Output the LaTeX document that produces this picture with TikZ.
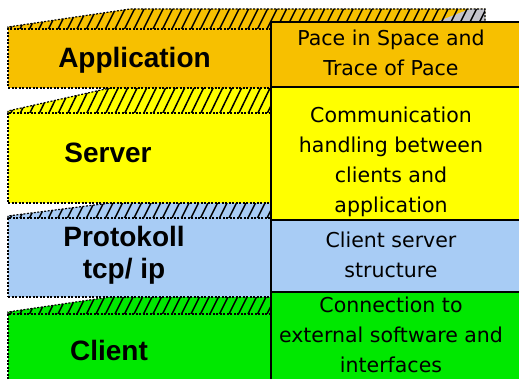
\documentclass[tikz,border=0pt]{standalone}
\usepackage{fontspec}
\setmainfont{Liberation Sans}
\newfontfamily\notefont{DejaVu Sans}
\usetikzlibrary{positioning}
\definecolor{apporange}{RGB}{247,192,0}
\definecolor{srvyellow}{RGB}{255,255,0}
\definecolor{protblue}{RGB}{168,204,245}
\definecolor{clntgreen}{RGB}{0,232,0}
\definecolor{shadegray}{RGB}{196,196,204}

\begin{document}
\begin{tikzpicture}[x=1pt, y=-1pt,
    lbox/.style={rectangle, inner sep=0pt, minimum width=263pt, draw=black,
      line width=1.2pt, dash pattern=on 2pt off 1.5pt},
    cell/.style={rectangle, inner sep=0pt, minimum width=252pt, draw=black, line width=1.3pt},
    lbl/.style={inner sep=0pt, align=center, font=\fontsize{28}{32}\selectfont\bfseries},
    note/.style={inner sep=0pt, align=center, font=\notefont\fontsize{20.5}{30}\selectfont},
    hatch/.style={line width=1.5pt},
    rim/.style={line width=1.2pt, dash pattern=on 2pt off 1.5pt}]
  \useasboundingbox (0,0) rectangle (519,379);
  \fill[white] (0,0) rectangle (519,379);
  \clip (0,0) rectangle (519,379);

  % slanted hatched tops
  \begin{scope}
    \clip (8,29) -- (8,27) -- (130,9) -- (485,9) -- (485,22) -- (271,22) -- (271,29) -- cycle;
    \fill[apporange] (0,0) rectangle (519,40);
    \fill[shadegray] (436,22) -- (470,9) -- (485,9) -- (485,22) -- cycle;
    \foreach \k in {0,...,56}
      \draw[hatch] (\k*9.5-20,33) -- ++(15,-30);
  \end{scope}
  \draw[rim] (8,29) -- (8,27) -- (130,9) -- (485,9) -- (485,22);

  \begin{scope}
    \clip (8,113) -- (8,111) -- (110,88) -- (271,88) -- (271,113) -- cycle;
    \fill[srvyellow] (0,80) rectangle (280,120);
    \foreach \k in {0,...,32}
      \draw[hatch] (\k*9.5-20,118) -- ++(16,-33);
  \end{scope}
  \draw[rim] (8,113) -- (8,111) -- (110,88);

  \begin{scope}
    \clip (8,218) -- (8,216) -- (110,203) -- (271,203) -- (271,218) -- cycle;
    \fill[protblue] (0,195) rectangle (280,225);
    \foreach \k in {0,...,32}
      \draw[hatch] (\k*9.5-20,222) -- ++(11,-22);
  \end{scope}
  \draw[rim] (8,218) -- (8,216) -- (110,203);

  \begin{scope}
    \clip (8,314) -- (8,312) -- (110,297) -- (271,297) -- (271,314) -- cycle;
    \fill[clntgreen] (0,290) rectangle (280,320);
    \foreach \k in {0,...,32}
      \draw[hatch] (\k*9.5-20,318) -- ++(12,-24);
  \end{scope}
  \draw[rim] (8,314) -- (8,312) -- (110,297);

  % front faces, left
  \node[lbox, fill=apporange, minimum height=59pt] (appBox) at (139.5,58.5) {};
  \node[lbox, fill=srvyellow, minimum height=90pt] (srvBox) at (139.5,158) {};
  \node[lbox, fill=protblue, minimum height=79pt] (protBox) at (139.5,257.5) {};
  \node[lbox, fill=clntgreen, minimum height=76pt] (clntBox) at (139.5,352) {};

  % right column
  \node[cell, fill=apporange, minimum height=65pt] (appCell) at (397,54.5) {};
  \node[cell, fill=srvyellow, minimum height=133pt] (srvCell) at (397,153.5) {};
  \node[cell, fill=protblue, minimum height=72pt] (protCell) at (397,256) {};
  \node[cell, fill=clntgreen, minimum height=89pt] (clntCell) at (397,336.5) {};

  % labels
  \node[lbl, anchor=base] (appLabel) at (134.5,67.5) {Application};
  \node[lbl, anchor=base] (srvLabel) at (108,163) {Server};
  \node[lbl] (protLabel) at (124,255) {Protokoll\\tcp/ ip};
  \node[lbl, anchor=base] (clntLabel) at (109,360) {Client};

  \node[note] (appNote) at (391,53) {Pace in Space and\\Trace of Pace};
  \node[note] (srvNote) at (391,162) {Communication\\handling between\\clients and\\application};
  \node[note] (protNote) at (391,255) {Client server\\structure};
  \node[note] (clntNote) at (391,335) {Connection to\\external software and\\interfaces};
\end{tikzpicture}
\end{document}
